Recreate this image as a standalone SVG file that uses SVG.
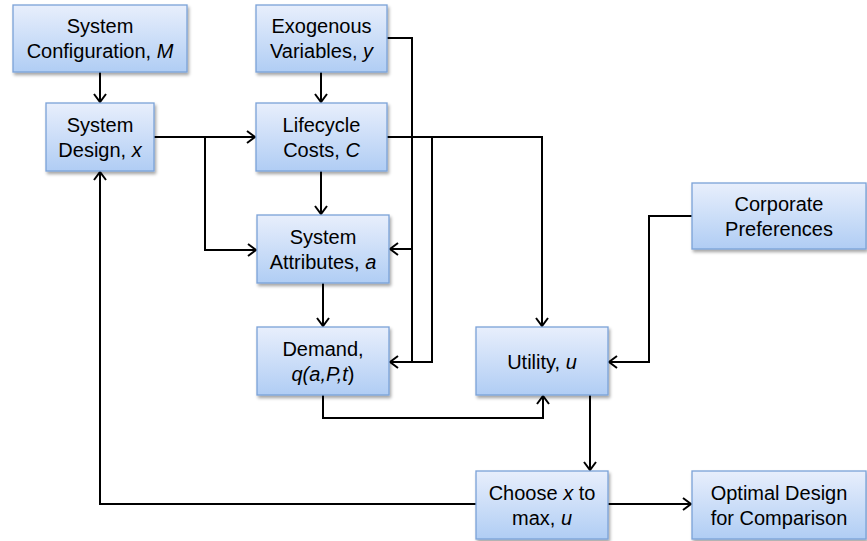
<svg xmlns="http://www.w3.org/2000/svg" width="867" height="541" viewBox="0 0 867 541">
<style>
.box{fill:url(#g);stroke:#7aa2d8;stroke-width:1.3;filter:url(#sh)}
.t{font-family:"Liberation Sans",Arial,sans-serif;font-size:20px;fill:#000;text-anchor:middle}
.i{font-style:italic}
.c{fill:none;stroke:#000;stroke-width:2}
.a{marker-end:url(#ar)}
</style>
<defs>
<linearGradient id="g" x1="0" y1="0" x2="0" y2="1">
<stop offset="0" stop-color="#e8effc"/>
<stop offset="1" stop-color="#b0cdf4"/>
</linearGradient>
<filter id="sh" x="-10%" y="-10%" width="130%" height="130%">
<feDropShadow dx="1.5" dy="2.5" stdDeviation="1.5" flood-color="#000" flood-opacity="0.35"/>
</filter>
<marker id="ar" markerUnits="userSpaceOnUse" markerWidth="14" markerHeight="16" refX="11" refY="7" orient="auto" viewBox="0 0 14 14">
<path d="M3,1 L11,7 L3,13" fill="none" stroke="#000" stroke-width="2"/>
</marker>
</defs>
<g id="connectors">
<path class="c a" d="M100,72 V102"/>
<path class="c a" d="M321,72 V102"/>
<path class="c a" d="M387,38 H412 V362 H390"/>
<path class="c a" d="M412,249 H390"/>
<path class="c a" d="M387,137 H542 V326"/>
<path class="c" d="M432,137 V362 H412"/>
<path class="c a" d="M154,137 H255"/>
<path class="c a" d="M205,137 V250 H256"/>
<path class="c a" d="M321,171 V214"/>
<path class="c a" d="M323,283 V326"/>
<path class="c a" d="M692,216 H649 V362 H609"/>
<path class="c a" d="M323,395 V418 H543 V396"/>
<path class="c a" d="M590,395 V470"/>
<path class="c a" d="M476,504 H100 V172"/>
<path class="c a" d="M608,504 H691"/>
</g>
<g id="cfg"><rect class="box" x="13" y="5" width="174" height="67"/><text class="t" x="100" y="33">System</text><text class="t" x="100" y="58">Configuration, <tspan class="i">M</tspan></text></g>
<g id="exo"><rect class="box" x="256" y="5" width="131" height="67"/><text class="t" x="321.5" y="33">Exogenous</text><text class="t" x="321.5" y="58">Variables, <tspan class="i">y</tspan></text></g>
<g id="design"><rect class="box" x="46" y="103" width="108" height="68"/><text class="t" x="100" y="132">System</text><text class="t" x="100" y="157">Design, <tspan class="i">x</tspan></text></g>
<g id="life"><rect class="box" x="256" y="103" width="131" height="68"/><text class="t" x="321.5" y="132">Lifecycle</text><text class="t" x="321.5" y="157">Costs, <tspan class="i">C</tspan></text></g>
<g id="attr"><rect class="box" x="257" y="215" width="132" height="68"/><text class="t" x="323" y="244">System</text><text class="t" x="323" y="269">Attributes, <tspan class="i">a</tspan></text></g>
<g id="demand"><rect class="box" x="257" y="327" width="132" height="68"/><text class="t" x="323" y="356">Demand,</text><text class="t" x="323" y="381"><tspan class="i">q(a,P,t</tspan>)</text></g>
<g id="utility"><rect class="box" x="476" y="327" width="132" height="68"/><text class="t" x="542" y="369">Utility, <tspan class="i">u</tspan></text></g>
<g id="corp"><rect class="box" x="692" y="183" width="174" height="66"/><text class="t" x="779" y="211">Corporate</text><text class="t" x="779" y="236">Preferences</text></g>
<g id="choose"><rect class="box" x="476" y="471" width="132" height="68"/><text class="t" x="542" y="500">Choose <tspan class="i">x</tspan> to</text><text class="t" x="542" y="525">max, <tspan class="i">u</tspan></text></g>
<g id="optimal"><rect class="box" x="692" y="471" width="174" height="68"/><text class="t" x="779" y="500">Optimal Design</text><text class="t" x="779" y="525">for Comparison</text></g>
</svg>
